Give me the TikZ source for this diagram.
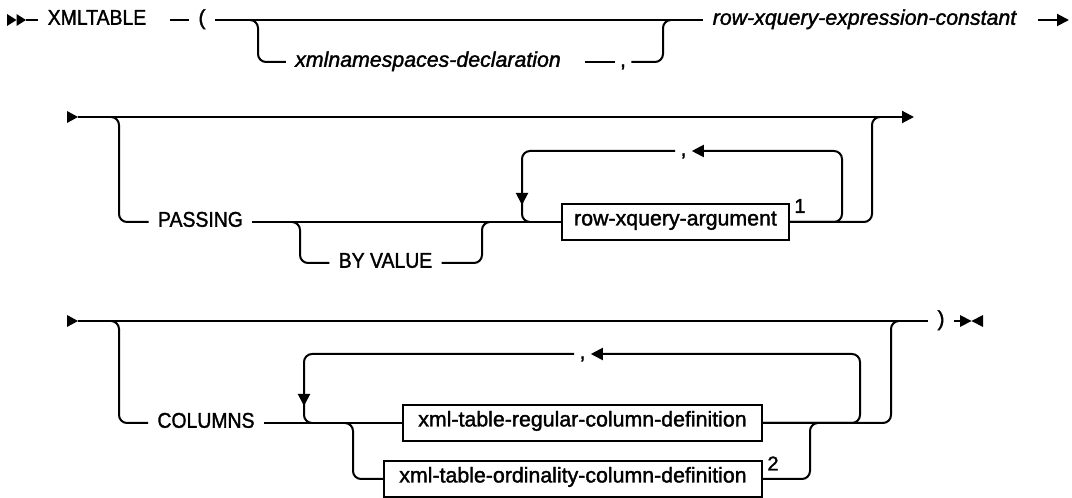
\documentclass[tikz,border=0pt]{standalone}
\usepackage{fontspec}
\usepackage{graphicx}
\setmainfont{Liberation Sans}[RawFeature={embolden=1.6}]
\usetikzlibrary{arrows.meta}
\newcommand\capw[1]{\scalebox{0.91}[1]{#1}}
\begin{document}
\begin{tikzpicture}[x=0.75pt,y=-0.75pt,line width=1.5pt,
  rc/.style={rounded corners=6pt},
  lbl/.style={inner xsep=7pt,inner ysep=0pt,outer sep=0pt,text height=0.716em,text depth=0pt,font=\fontsize{16}{19}\selectfont},
  ital/.style={lbl,font=\fontsize{16}{19}\selectfont\itshape},
  cma/.style={lbl,inner xsep=4pt},
  box/.style={draw,line width=1.5pt,minimum height=27pt,inner xsep=0pt,inner ysep=0pt,outer sep=0pt,text height=0.716em,text depth=0.2em,font=\fontsize{16}{19}\selectfont},
  supn/.style={inner sep=0pt,font=\fontsize{15}{17}\selectfont},
  arr/.style={-{Triangle[length=9pt,width=9pt]}}]
\useasboundingbox (0,0) rectangle (1072,498);

% ---------- row 1 ----------
\fill (7,14) -- (16.5,20) -- (7,26) -- cycle;
\fill (16.5,14) -- (26,20) -- (16.5,26) -- cycle;
\node[lbl] (xmltable) at (97,20) {\capw{XMLTABLE}};
\node[lbl] (lp) at (202,20) {(};
\node[ital] (ns) at (428,62) {xmlnamespaces-declaration};
\node[cma] (c1) at (623,62) {,};
\node[ital] (rxec) at (864.5,20) {row-xquery-expression-constant};
\coordinate (s1) at (26,20);
\coordinate (d1) at (170,20);
\coordinate (b1) at (250,20);
\coordinate (d2) at (585,62);
\coordinate (e1a) at (1038,20);
\coordinate (e1b) at (1069,20);
\draw (s1) -- (xmltable.west);
\draw (d1) -- (lp.west);
\draw (lp.east) -- (rxec.west);
\draw[rc] (b1) -- (258,20) -- (258,62) -- (ns.west);
\draw (d2) -- (c1.west);
\draw[rc] (c1.east) -- (663,62) -- (663,20) -- (671,20);
\draw[arr] (e1a) -- (e1b);

% ---------- row 2 ----------
\fill (67,111) -- (78,117) -- (67,123) -- cycle;
\coordinate (s2) at (78,117);
\coordinate (e2) at (914,117);
\draw[arr] (s2) -- (e2);
\node[lbl] (passing) at (200.5,222) {\capw{PASSING}};
\node[lbl] (byv) at (385.5,263) {\capw{BY VALUE}};
\node[box,minimum width=170.25pt] (rxa) at (675.5,222) {row-xquery-argument};
\node[supn] (n1) at (800,206) {1};
\node[cma] (c2) at (683.5,151) {,};
\draw[rc] (111,117) -- (119,117) -- (119,222) -- (passing.west);
\draw (passing.east) -- (rxa.west);
\draw[rc] (292,222) -- (300,222) -- (300,263) -- (byv.west);
\draw[rc] (byv.east) -- (482,263) -- (482,222) -- (490,222);
\draw[rc,arr] (rxa.east) -- (842,222) -- (842,151) -- (c2.east);
\draw[rc,arr] (c2.west) -- (522,151) -- (522,205);
\draw[rc] (522,198) -- (522,222) -- (530,222);
\draw[rc] (rxa.east) -- (872,222) -- (872,117) -- (880,117);

% ---------- row 3 ----------
\fill (67,315) -- (78,321) -- (67,327) -- cycle;
\coordinate (s3) at (78,321);
\node[lbl] (rp) at (941,321) {)};
\coordinate (e3) at (960,321);
\draw (s3) -- (rp.west);
\draw (rp.east) -- (e3);
\fill (960,315) -- (971.5,321) -- (960,327) -- cycle;
\fill (983,315) -- (971.5,321) -- (983,327) -- cycle;
\node[lbl] (columns) at (206,423) {\capw{COLUMNS}};
\node[box,minimum width=269.25pt] (reg) at (582.5,423) {xml-table-regular-column-definition};
\node[box,minimum width=283.5pt] (ord) at (573,479) {xml-table-ordinality-column-definition};
\node[supn] (n2) at (773,463.5) {2};
\node[cma] (c3) at (582.5,354) {,};
\draw[rc] (111,321) -- (119,321) -- (119,423) -- (columns.west);
\draw (columns.east) -- (reg.west);
\draw[rc] (345,423) -- (353,423) -- (353,479) -- (ord.west);
\draw[rc] (ord.east) -- (810,479) -- (810,423) -- (818,423);
\draw[rc,arr] (reg.east) -- (860,423) -- (860,354) -- (c3.east);
\draw[rc,arr] (c3.west) -- (304,354) -- (304,406);
\draw[rc] (304,399) -- (304,423) -- (312,423);
\draw[rc] (reg.east) -- (891,423) -- (891,321) -- (899,321);
\end{tikzpicture}
\end{document}
